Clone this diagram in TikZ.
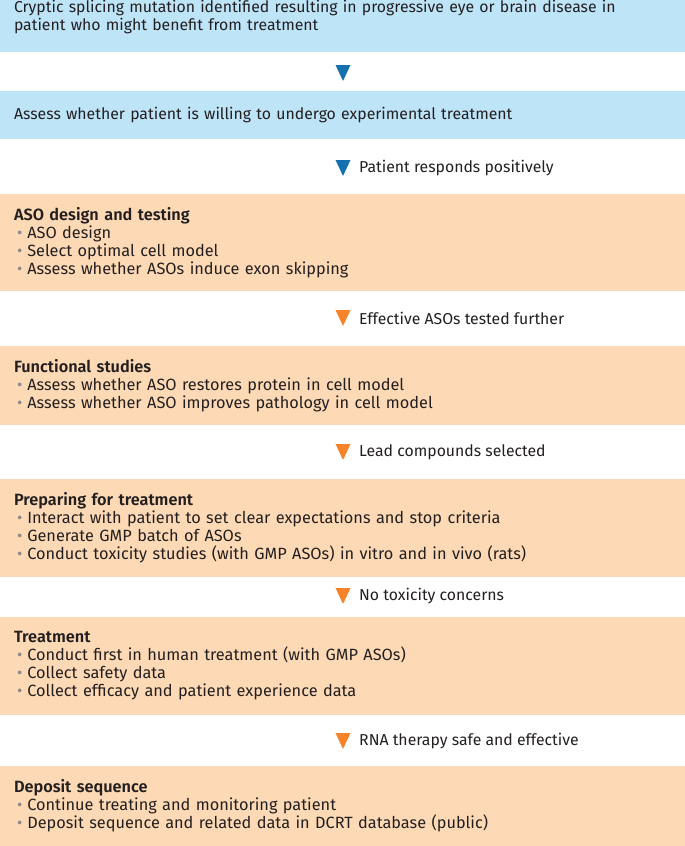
\documentclass[tikz,border=0pt]{standalone}
\usepackage{fontspec}
\setmainfont{Fira Sans}[BoldFont={Fira Sans SemiBold}]
\usepackage{xcolor}
\usetikzlibrary{positioning}
\definecolor{skyfill}{HTML}{BEE4F8}
\definecolor{peachfill}{HTML}{FDDAB5}
\definecolor{skytip}{HTML}{1570B0}
\definecolor{peachtip}{HTML}{F6822A}
\definecolor{inktext}{HTML}{231F20}
\definecolor{dotgrey}{HTML}{8A8A8A}
\tikzset{font=\fontsize{15.8}{18}\selectfont}
\tikzstyle{stage}=[inner xsep=14pt,inner ysep=0pt,minimum width=685pt,text width=657pt,align=left,text=inktext]
\tikzstyle{skybox}=[stage,fill=skyfill]
\tikzstyle{peachbox}=[stage,fill=peachfill,font=\fontsize{16.3}{18}\selectfont]
\tikzstyle{note}=[anchor=west,inner sep=0pt,text=inktext]
\newcommand{\itm}[1]{\\\hspace{3pt}{\color{dotgrey}\textbullet}\hspace{5pt}#1}
\newcommand{\tip}[2]{\fill[#1] (#2) ++(-7.5,8) -- ++(15,0) -- ++(-7.5,-16) -- cycle;}

\begin{document}
\begin{tikzpicture}[x=1pt,y=1pt]
\clip (0,0) rectangle (685,-846);
\useasboundingbox (0,0) rectangle (685,-846);
% stages
\node[skybox,minimum height=70pt] (S1) at (342.5,-17) {Cryptic splicing mutation identified resulting in progressive eye or brain disease in\\patient who might benefit from treatment};
\node[skybox,minimum height=48pt] (S2) at (342.5,-115) {Assess whether patient is willing to undergo experimental treatment};
\node[peachbox,minimum height=97pt] (S3) at (342.5,-242.5) {\textbf{ASO design and testing}\itm{ASO design}\itm{Select optimal cell model}\itm{Assess whether ASOs induce exon skipping}};
\node[peachbox,minimum height=79pt] (S4) at (342.5,-385.5) {\textbf{Functional studies}\itm{Assess whether ASO restores protein in cell model}\itm{Assess whether ASO improves pathology in cell model}};
\node[peachbox,minimum height=98pt] (S5) at (342.5,-528) {\textbf{Preparing for treatment}\itm{Interact with patient to set clear expectations and stop criteria}\itm{Generate GMP batch of ASOs}\itm{Conduct toxicity studies (with GMP ASOs) in vitro and in vivo (rats)}};
\node[peachbox,minimum height=98pt] (S6) at (342.5,-666) {\textbf{Treatment}\itm{Conduct first in human treatment (with GMP ASOs)}\itm{Collect safety data}\itm{Collect efficacy and patient experience data}};
\node[peachbox,minimum height=80pt] (S7) at (342.5,-806) {\textbf{Deposit sequence}\itm{Continue treating and monitoring patient}\itm{Deposit sequence and related data in DCRT database (public)}};
% step markers
\coordinate (T1) at (343,-73);
\coordinate (T2) at (343,-168);
\coordinate (T3) at (343,-318);
\coordinate (T4) at (343,-452);
\coordinate (T5) at (343,-596);
\coordinate (T6) at (343,-741);
\tip{skytip}{T1}
\tip{skytip}{T2}
\tip{peachtip}{T3}
\tip{peachtip}{T4}
\tip{peachtip}{T5}
\tip{peachtip}{T6}
\node[note] (L2) at (359,-168) {Patient responds positively};
\node[note] (L3) at (359,-318) {Effective ASOs tested further};
\node[note] (L4) at (359,-452) {Lead compounds selected};
\node[note] (L5) at (359,-596) {No toxicity concerns};
\node[note] (L6) at (359,-741) {RNA therapy safe and effective};
\end{tikzpicture}
\end{document}
